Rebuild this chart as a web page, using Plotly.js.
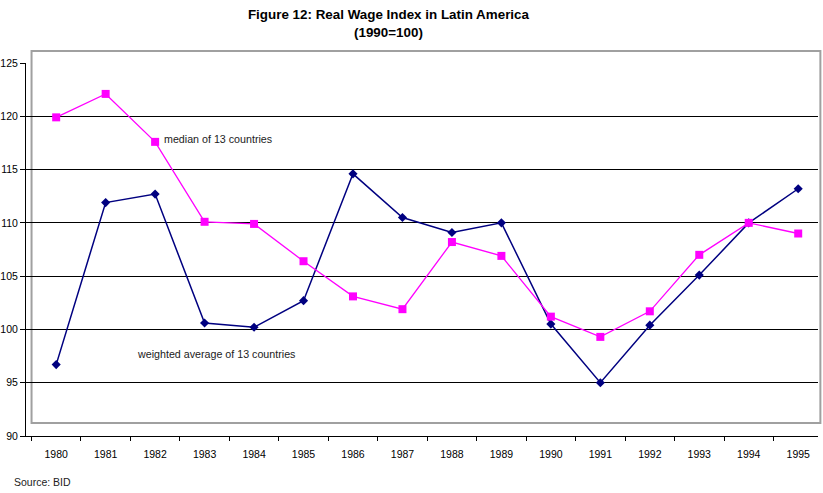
<!DOCTYPE html>
<html><head><meta charset="utf-8">
<script src="https://cdn.plot.ly/plotly-3.0.1.min.js"></script>
<style>html,body{margin:0;padding:0;background:#fff}#chart{width:823px;height:493px}</style>
</head><body><div id="chart"></div>
<script>
const years = [1980,1981,1982,1983,1984,1985,1986,1987,1988,1989,1990,1991,1992,1993,1994,1995];
const weightedAvg = [96.7,111.9,112.7,100.6,100.2,102.7,114.6,110.5,109.1,110.0,100.5,95.0,100.4,105.1,110.0,113.2];
const median = [119.9,122.1,117.6,110.1,109.9,106.4,103.1,101.9,108.2,106.9,101.2,99.3,101.7,107.0,110.0,109.0];
const yTicks = [90,95,100,105,110,115,120,125];

const FAM = 'Liberation Sans, Arial, sans-serif';
const font = {family:FAM, size:10.5, color:'#000'};
const traces = [
  {x: years, y: weightedAvg, type:'scatter', mode:'lines+markers', name:'weighted average of 13 countries',
   line:{color:'#000080', width:1.5}, marker:{symbol:'diamond', size:7, color:'#000080'}},
  {x: years, y: median, type:'scatter', mode:'lines+markers', name:'median of 13 countries',
   line:{color:'#FF00FF', width:1.3}, marker:{symbol:'square', size:8, color:'#FF00FF'}}
];
const layout = {
  width:823, height:493,
  margin:{l:26, r:5, t:63, b:57},
  paper_bgcolor:'#fff', plot_bgcolor:'#fff',
  showlegend:false, font: font,
  title:{text:'<b>Figure 12: Real Wage Index in Latin America</b><br><b>(1990=100)</b>',
    xref:'container', x:0.472, xanchor:'center', yref:'container', y:0.961, yanchor:'middle',
    font:{family:FAM, size:13.4, color:'#000'}},
  xaxis:{range:[1979.39,1995.4], tickvals:years, ticktext:years.map(String), ticks:'',
    showgrid:false, zeroline:false, showline:true, linecolor:'#000', linewidth:1,
    tickfont:font, ticklabelstandoff:8,
    minor:{tick0:1979.5, dtick:1, ticks:'outside', ticklen:4, tickcolor:'#000', showgrid:false}},
  yaxis:{range:[90,125], tickvals:yTicks, ticks:'outside', ticklen:5, tickcolor:'#000',
    showgrid:true, gridcolor:'#000', gridwidth:1, zeroline:false,
    showline:true, linecolor:'#000', linewidth:1, tickfont:font},
  shapes:[{type:'rect', xref:'paper', yref:'paper', x0:0.007, x1:1.003, y0:0.035, y1:1.032,
    line:{color:'#a0a0a0', width:2}, fillcolor:'rgba(0,0,0,0)', layer:'below'}],
  annotations:[
    {xref:'paper', yref:'paper', x:0.172, y:0.797, xanchor:'left', yanchor:'middle', showarrow:false,
     text:'median of 13 countries', font:{family:FAM, size:10.7, color:'#222'}},
    {xref:'paper', yref:'paper', x:0.137, y:0.22, xanchor:'left', yanchor:'middle', showarrow:false,
     text:'weighted average of 13 countries', font:{family:FAM, size:10.7, color:'#222'}},
    {xref:'paper', yref:'paper', x:-0.018, y:-0.123, xanchor:'left', yanchor:'middle', showarrow:false,
     text:'Source: BID', font:{family:FAM, size:10.5, color:'#222'}}
  ]
};
Plotly.newPlot('chart', traces, layout, {displayModeBar:false, staticPlot:true});
</script></body></html>
